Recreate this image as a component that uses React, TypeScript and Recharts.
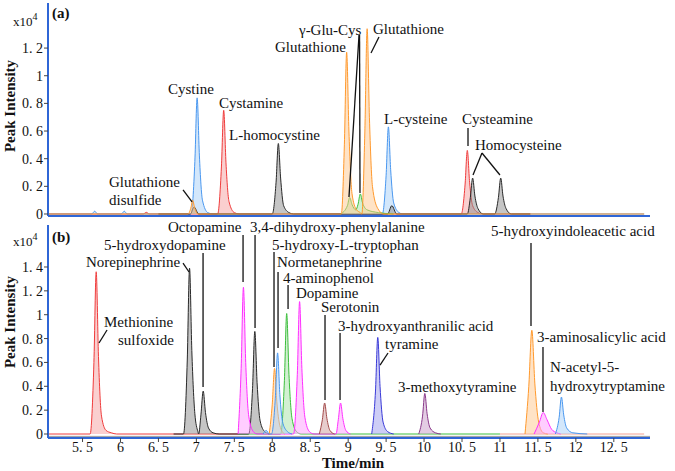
import { Area, ComposedChart, ReferenceLine, XAxis, YAxis } from "recharts";

type Pt = [number, number];

// ---- panel (a): retention time (min), intensity (x10^4) ----
const aBlue: Pt[] = [
  [5.05, 0], [5.62, 0], [5.66, 0.02], [5.7, 0], [6.01, 0], [6.05, 0.02], [6.09, 0],
  [6.93, 0], [6.98, 0.38], [7.01, 0.84], [7.04, 0.42], [7.08, 0.1], [7.15, 0.01], [7.22, 0],
  [9.45, 0], [9.5, 0.28], [9.53, 0.63], [9.56, 0.32], [9.6, 0.08], [9.67, 0.01], [9.72, 0],
  [12.9, 0],
];
const aRed: Pt[] = [
  [5.05, 0], [6.3, 0], [6.34, 0.012], [6.38, 0],
  [7.28, 0], [7.33, 0.34], [7.36, 0.75], [7.39, 0.37], [7.43, 0.09], [7.5, 0.01], [7.57, 0],
  [10.49, 0], [10.54, 0.21], [10.57, 0.46], [10.6, 0.23], [10.64, 0.06], [10.71, 0.01], [10.77, 0],
  [11.4, 0],
];
const aBlack: Pt[] = [
  [6.5, 0], [6.92, 0], [6.97, 0.05], [7.03, 0],
  [8.0, 0], [8.05, 0.23], [8.08, 0.51], [8.11, 0.26], [8.15, 0.06], [8.22, 0.01], [8.28, 0],
  [9.52, 0], [9.575, 0.06], [9.64, 0],
  [10.57, 0], [10.61, 0.12], [10.64, 0.26], [10.67, 0.13], [10.71, 0.04], [10.78, 0],
  [10.93, 0], [10.98, 0.12], [11.01, 0.26], [11.04, 0.13], [11.08, 0.04], [11.15, 0],
  [11.4, 0],
];
const aOrange: Pt[] = [
  [5.05, 0], [6.89, 0], [6.93, 0.05], [6.95, 0.1], [6.975, 0.05], [7.02, 0],
  [8.91, 0], [8.95, 0.5], [8.98, 1.17], [9.01, 0.6], [9.05, 0.15], [9.11, 0.03], [9.16, 0.01],
  [9.18, 0], [9.22, 0.6], [9.25, 1.34], [9.28, 0.7], [9.32, 0.2], [9.39, 0.04], [9.47, 0],
  [12.9, 0],
];
const aGreen: Pt[] = [
  [8.9, 0], [8.99, 0.06], [9.02, 0.12], [9.05, 0.07], [9.1, 0.03], [9.13, 0.07], [9.16, 0.145],
  [9.19, 0.08], [9.25, 0.03], [9.4, 0.01], [9.6, 0],
];

// ---- panel (b) ----
const bRed: Pt[] = [
  [5.05, 0], [5.6, 0], [5.65, 0.6], [5.68, 1.36], [5.71, 0.65], [5.75, 0.15], [5.81, 0.03],
  [5.88, 0.01], [5.95, 0], [7.55, 0],
];
const bBlack: Pt[] = [
  [6.7, 0], [6.83, 0], [6.88, 0.62], [6.91, 1.39], [6.94, 0.7], [6.98, 0.17], [7.02, 0.02],
  [7.03, 0], [7.06, 0.16], [7.09, 0.36], [7.12, 0.18], [7.16, 0.05], [7.22, 0.01], [7.3, 0],
  [7.69, 0], [7.74, 0.38], [7.77, 0.86], [7.8, 0.43], [7.84, 0.11], [7.9, 0.02], [7.96, 0],
];
const bGreen: Pt[] = [
  [7.55, 0], [8.11, 0], [8.16, 0.45], [8.19, 1.01], [8.22, 0.5], [8.26, 0.13], [8.32, 0.02],
  [8.38, 0], [11.0, 0],
];
const bMagenta: Pt[] = [
  [7.55, 0], [7.59, 0.55], [7.62, 1.23], [7.65, 0.6], [7.69, 0.15], [7.75, 0.02], [7.8, 0],
  [8.28, 0], [8.33, 0.5], [8.36, 1.11], [8.39, 0.55], [8.43, 0.14], [8.49, 0.02], [8.55, 0],
  [8.84, 0], [8.87, 0.12], [8.9, 0.26], [8.93, 0.13], [8.97, 0.03], [9.03, 0],
];
const bOrange: Pt[] = [
  [7.96, 0], [8.0, 0.25], [8.03, 0.55], [8.06, 0.27], [8.1, 0.07], [8.16, 0],
];
const bBlue: Pt[] = [
  [7.88, 0], [7.92, 0.03], [7.96, 0], [7.99, 0], [8.04, 0.3], [8.07, 0.68], [8.1, 0.33],
  [8.14, 0.09], [8.2, 0.02], [8.26, 0],
];
const bBrown: Pt[] = [[8.62, 0], [8.66, 0.12], [8.69, 0.26], [8.72, 0.13], [8.76, 0.03], [8.82, 0]];
const bIndigo: Pt[] = [
  [9.31, 0], [9.36, 0.36], [9.39, 0.81], [9.42, 0.4], [9.46, 0.1], [9.52, 0.02], [9.6, 0],
];
const bPlum: Pt[] = [
  [9.93, 0], [9.98, 0.15], [10.01, 0.34], [10.04, 0.17], [10.08, 0.05], [10.15, 0.01], [10.22, 0],
];
const bSalmon: Pt[] = [[11.0, 0], [12.9, 0]];
const bOrange2: Pt[] = [
  [11.33, 0], [11.38, 0.4], [11.42, 0.87], [11.46, 0.42], [11.51, 0.1], [11.57, 0.01], [11.63, 0],
];
const bMagenta2: Pt[] = [
  [11.45, 0], [11.52, 0.1], [11.57, 0.18], [11.62, 0.12], [11.68, 0.04], [11.75, 0.01], [11.8, 0],
];
const bBlue2: Pt[] = [
  [11.73, 0], [11.78, 0.14], [11.81, 0.31], [11.84, 0.16], [11.88, 0.05], [11.96, 0.01], [12.15, 0],
];

const yTicksA = [0, 0.2, 0.4, 0.6, 0.8, 1, 1.2];
const yTicksB = [0, 0.2, 0.4, 0.6, 0.8, 1, 1.2, 1.4];
const xTicks = [5.5, 6, 6.5, 7, 7.5, 8, 8.5, 9, 9.5, 10, 10.5, 11, 11.5, 12, 12.5];

// leader lines, in data units
const leadersA: [Pt, Pt][] = [
  [[6.824, 0.174], [6.943, 0.087]],
  [[9.143, 1.294], [9.011, 0.123]],
  [[9.15, 1.294], [9.156, 0.152]],
  [[9.406, 1.28], [9.301, 1.164]],
  [[10.579, 0.622], [10.579, 0.492]],
  [[10.763, 0.441], [10.645, 0.282]],
  [[10.763, 0.441], [11.0, 0.282]],
];
const leadersB: [Pt, Pt][] = [
  [[5.823, 0.872], [5.717, 0.763]],
  [[6.824, 1.433], [6.903, 1.358]],
  [[7.088, 1.517], [7.088, 0.394]],
  [[7.615, 1.668], [7.615, 1.274]],
  [[7.773, 1.668], [7.773, 0.889]],
  [[8.023, 1.526], [8.023, 0.562]],
  [[8.076, 1.358], [8.076, 0.721]],
  [[8.208, 1.249], [8.208, 1.048]],
  [[8.695, 0.997], [8.695, 0.285]],
  [[8.893, 0.847], [8.893, 0.285]],
  [[9.525, 0.679], [9.42, 0.578]],
  [[11.409, 1.601], [11.409, 0.905]],
  [[11.567, 0.729], [11.567, 0.184]],
];

const labelsA: [string, number, number][] = [
  ["Glutathione", 109, 182], ["disulfide", 109, 200], ["Cystine", 168, 89], ["Cystamine", 219, 103],
  ["L-homocystine", 229, 135], ["γ-Glu-Cys", 299, 30], ["Glutathione", 275, 47], ["Glutathione", 373, 29],
  ["L-cysteine", 384, 119], ["Cysteamine", 462, 119], ["Homocysteine", 475, 145],
];
const labelsB: [string, number, number][] = [
  ["Octopamine", 168, 227], ["3,4-dihydroxy-phenylalanine", 250, 227], ["5-hydroxydopamine", 104, 245],
  ["5-hydroxy-L-tryptophan", 272, 245], ["Norepinephrine", 86, 262], ["Normetanephrine", 277, 262],
  ["4-aminophenol", 283, 278], ["Dopamine", 296, 293], ["Serotonin", 321, 307],
  ["3-hydroxyanthranilic acid", 338, 326], ["tyramine", 385, 344], ["Methionine", 104, 322],
  ["sulfoxide", 118, 340], ["3-methoxytyramine", 398, 387], ["5-hydroxyindoleacetic acid", 491, 231],
  ["3-aminosalicylic acid", 537, 337], ["N-acetyl-5-", 550, 367], ["hydroxytryptamine", 550, 386],
];

const seriesA: [string, Pt[], string, string][] = [
  ["red", aRed, "#f03c3c", "#f6a0a0"],
  ["blue", aBlue, "#4a98f0", "#a8d0f8"],
  ["black", aBlack, "#2a2a2a", "#8c8c8c"],
  ["green", aGreen, "#3cbf3c", "#a6e2a6"],
  ["orange", aOrange, "#ff9a2e", "#ffc88e"],
];
const seriesB: [string, Pt[], string, string][] = [
  ["red", bRed, "#f03c3c", "#f6a0a0"],
  ["green", bGreen, "#3cbf3c", "#a6e2a6"],
  ["salmon", bSalmon, "#f4a090", "#f4a090"],
  ["black", bBlack, "#2a2a2a", "#8c8c8c"],
  ["magenta", bMagenta, "#ff30ff", "#ff9cff"],
  ["orange", bOrange, "#ff9a2e", "#ffc88e"],
  ["blue", bBlue, "#4a98f0", "#a8d0f8"],
  ["brown", bBrown, "#a34a4a", "#d09a9a"],
  ["indigo", bIndigo, "#3a3ad8", "#9c9cee"],
  ["plum", bPlum, "#8a3a8a", "#c89ac8"],
  ["orange2", bOrange2, "#ff9a2e", "#ffc88e"],
  ["magenta2", bMagenta2, "#ff30ff", "#ff9cff"],
  ["blue2", bBlue2, "#4a98f0", "#a8d0f8"],
];

function buildRows(list: [string, Pt[], string, string][]) {
  const m = new Map<number, any>();
  for (const [k, pts] of list) {
    for (const [t, y] of pts) {
      if (!m.has(t)) m.set(t, { t });
      m.get(t)[k] = y;
    }
  }
  return [...m.values()].sort((a, b) => a.t - b.t);
}

const SERIF = "Liberation Serif";
const fmt = (v: number) => (Number.isInteger(v) ? String(v) : v.toFixed(1).replace(".", ". "));
const axisBlue = "#2f66d6";
const tickStyle = { fontSize: 14, fill: "#111", fontFamily: SERIF };
const X_DOMAIN: [number, number] = [5.045, 12.977];

function Panel({ series, leaders, yTicks, domain, bottom }: any) {
  return (
    <ComposedChart
      width={675}
      height={bottom ? 249 : 222}
      data={buildRows(series)}
      margin={{ top: 3, right: 25, bottom: 0, left: 0 }}
      style={{ fontFamily: SERIF }}
    >
      <XAxis
        dataKey="t"
        type="number"
        domain={X_DOMAIN}
        allowDataOverflow
        ticks={bottom ? xTicks : []}
        tick={bottom ? tickStyle : false}
        tickFormatter={fmt}
        tickSize={4}
        tickMargin={0}
        height={bottom ? 33 : 6}
        axisLine={{ stroke: axisBlue, strokeWidth: 2 }}
        tickLine={{ stroke: "#444" }}
      />
      <YAxis
        type="number"
        domain={domain}
        allowDataOverflow
        ticks={yTicks}
        tick={tickStyle}
        tickFormatter={fmt}
        tickSize={4}
        tickMargin={1}
        width={48}
        axisLine={{ stroke: axisBlue, strokeWidth: 2 }}
        tickLine={{ stroke: "#444" }}
      />
      {bottom && <ReferenceLine y={-0.02} stroke="#9a9a9a" strokeWidth={1} />}
      {series.map(([k, , stroke, fill]: any) => (
        <Area
          key={k}
          dataKey={k}
          type="monotone"
          stroke={stroke}
          strokeWidth={1}
          fill={fill}
          fillOpacity={0.5}
          baseValue={0}
          connectNulls
          dot={false}
          activeDot={false}
          isAnimationActive={false}
        />
      ))}
      {leaders.map((s: [Pt, Pt], i: number) => (
        <ReferenceLine
          key={i}
          segment={[{ x: s[0][0], y: s[0][1] }, { x: s[1][0], y: s[1][1] }]}
          stroke="#111"
          strokeWidth={1.3}
        />
      ))}
    </ComposedChart>
  );
}

export default function App() {
  return (
    <div style={{ position: "absolute", left: 0, top: 0, width: 675, height: 471, background: "#fff" }}>
      <div style={{ position: "absolute", left: 0, top: 0 }}>
        <Panel series={seriesA} leaders={leadersA} yTicks={yTicksA} domain={[-0.0145, 1.526]} />
      </div>
      <div style={{ position: "absolute", left: 0, top: 222 }}>
        <Panel series={seriesB} leaders={leadersB} yTicks={yTicksB} domain={[-0.0335, 1.752]} bottom />
      </div>
      <svg width={675} height={471} style={{ position: "absolute", left: 0, top: 0, pointerEvents: "none" }}>
        <g fontFamily={SERIF} fontSize={15} fill="#111">
          {[...labelsA, ...labelsB].map(([s, x, y], i) => (
            <text key={i} x={x} y={y} dominantBaseline="central">{s}</text>
          ))}
        </g>
        <g fontFamily={SERIF} fontWeight="bold" fontSize={15} fill="#111">
          <text x={52} y={13} dominantBaseline="central">(a)</text>
          <text x={52} y={237} dominantBaseline="central">(b)</text>
          <text transform="translate(10,106) rotate(-90)" textAnchor="middle" dominantBaseline="central">Peak Intensity</text>
          <text transform="translate(10,322) rotate(-90)" textAnchor="middle" dominantBaseline="central">Peak Intensity</text>
          <text x={353} y={463} textAnchor="middle" dominantBaseline="central">Time/min</text>
        </g>
        <g fontFamily={SERIF} fontSize={13} fill="#111">
          <text x={13} y={21} dominantBaseline="central">x10<tspan dy={-5} fontSize={10}>4</tspan></text>
          <text x={13} y={241} dominantBaseline="central">x10<tspan dy={-5} fontSize={10}>4</tspan></text>
        </g>
      </svg>
    </div>
  );
}
